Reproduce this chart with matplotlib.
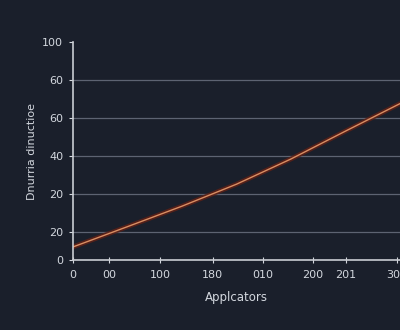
import matplotlib.pyplot as plt

# data
x_vals = [0, 50, 100, 150, 200, 250, 300]
y_vals = [11.9, 22.6, 33.4, 45.0, 58.3, 73.0, 87.5]

x_ticks = [0, 33, 80, 128, 174, 220, 250, 297]
x_tick_labels = ['0', '00', '100', '180', '010', '200', '201', '300']
y_ticks = [5, 20, 40, 60, 80, 100, 120]
y_tick_labels = ['0', '20', '20', '40', '60', '60', '100']

bg = '#1a1f2b'
txt = '#d3d7de'

fig = plt.figure(figsize=(4, 3.3), dpi=100, facecolor=bg)
ax = fig.add_axes([0.1825, 0.2121, 0.8175, 0.6606])
ax.set_facecolor(bg)

# glow under the line, then the line itself
ax.plot(x_vals, y_vals, color='#5e2016', lw=3.4, alpha=0.85, solid_capstyle='round')
ax.plot(x_vals, y_vals, color='#d98d62', lw=1.0)

ax.set_xlim(0, 300)
ax.set_ylim(5, 120)
ax.set_xticks(x_ticks)
ax.set_xticklabels(x_tick_labels)
ax.set_yticks(y_ticks)
ax.set_yticklabels(y_tick_labels)

ax.grid(axis='y', color='#5d6372', lw=0.9)
ax.set_axisbelow(True)
ax.get_ygridlines()[-1].set_visible(False)

for s in ['top', 'right']:
    ax.spines[s].set_visible(False)
for s in ['left', 'bottom']:
    ax.spines[s].set_color('#c9ccd2')
    ax.spines[s].set_linewidth(1.2)

ax.tick_params(axis='x', colors=txt, labelsize=8, direction='inout', length=4, pad=5)
ax.tick_params(axis='y', colors=txt, labelsize=8, length=3, pad=4)

ax.set_xlabel('Applcators', color=txt, fontsize=8.5, labelpad=8)
ax.set_ylabel('Dnurria dinuctioe', color=txt, fontsize=8)
ax.yaxis.set_label_coords(-0.11, 0.5)

fig.savefig('out.png', dpi=100, facecolor=bg)
